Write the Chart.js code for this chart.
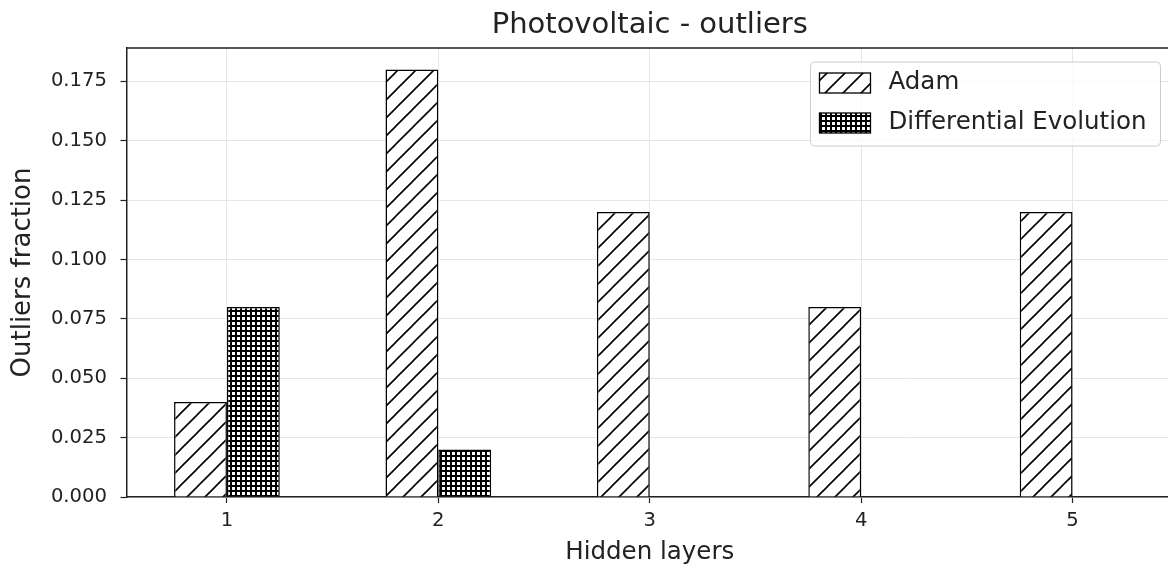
<!DOCTYPE html>
<html>
<head>
<meta charset="utf-8">
<title>Photovoltaic - outliers</title>
<script src="https://cdn.jsdelivr.net/npm/chart.js@4.4.1/dist/chart.umd.min.js"></script>
<style>
  html, body { margin: 0; padding: 0; background: #fff; overflow: hidden; }
  #wrap { width: 1180px; height: 572px; }
</style>
</head>
<body>
<div id="wrap"><canvas id="chart" width="1180" height="572"></canvas></div>
<script>
// ===== DATOS =====
const chartTitle = 'Photovoltaic - outliers';
const categories = [1, 2, 3, 4, 5];
const seriesLabels = ['Adam', 'Differential Evolution'];
const adamValues = [0.04, 0.18, 0.12, 0.08, 0.12];
const deValues = [0.08, 0.02, 0, 0, 0];
const yTicks = [0, 0.025, 0.05, 0.075, 0.1, 0.125, 0.15, 0.175];

const FONT = '"DejaVu Sans", sans-serif';
const INK = '#222';

const canvas = document.getElementById('chart');
const ctx = canvas.getContext('2d');

// ===== TRAMAS (hatch) =====
function diagonalHatch() {
  const c = document.createElement('canvas');
  c.width = 18; c.height = 18;
  const g = c.getContext('2d');
  g.fillStyle = '#fff';
  g.fillRect(0, 0, 18, 18);
  g.strokeStyle = '#000';
  g.lineWidth = 1.6;
  g.beginPath();
  g.moveTo(-2, 20); g.lineTo(20, -2);
  g.moveTo(-2, 2); g.lineTo(2, -2);
  g.moveTo(16, 20); g.lineTo(20, 16);
  g.stroke();
  return ctx.createPattern(c, 'repeat');
}

function gridHatch() {
  const c = document.createElement('canvas');
  c.width = 5; c.height = 5;
  const g = c.getContext('2d');
  g.fillStyle = '#fff';
  g.fillRect(0, 0, 5, 5);
  g.fillStyle = '#000';
  g.fillRect(0, 0, 5, 2);
  g.fillRect(0, 0, 2, 5);
  return ctx.createPattern(c, 'repeat');
}

// ===== PLUGINS =====
const plotTitle = {
  id: 'plotTitle',
  afterDraw(chart) {
    const { ctx, chartArea: a } = chart;
    ctx.save();
    ctx.font = '29px ' + FONT;
    ctx.fillStyle = INK;
    ctx.textAlign = 'center';
    ctx.textBaseline = 'middle';
    ctx.fillText(chartTitle, (a.left + a.right) / 2, a.top - 23);
    ctx.restore();
  }
};

const frame = {
  id: 'frame',
  afterDatasetsDraw(chart) {
    const { ctx, chartArea: a } = chart;
    ctx.save();
    ctx.strokeStyle = INK;
    ctx.lineWidth = 1.5;
    ctx.beginPath();
    ctx.moveTo(a.left, a.top);
    ctx.lineTo(a.right, a.top);
    ctx.lineTo(a.right, a.bottom);
    ctx.stroke();
    ctx.restore();
  }
};

const hatchLegend = {
  id: 'hatchLegend',
  afterDraw(chart) {
    const { ctx, chartArea: a } = chart;
    const sets = chart.data.datasets;
    ctx.save();
    ctx.font = '24.5px ' + FONT;
    const textW = Math.max(...sets.map(d => ctx.measureText(d.label).width));
    const boxW = 9 + 51 + 18 + textW + 14;
    const boxH = 84;
    const right = a.right - 12.5;
    const left = right - boxW;
    const top = a.top + 14;

    ctx.beginPath();
    ctx.roundRect(left, top, boxW, boxH, 4);
    ctx.fillStyle = 'rgba(255,255,255,0.8)';
    ctx.fill();
    ctx.strokeStyle = '#cccccc';
    ctx.lineWidth = 1;
    ctx.stroke();

    sets.forEach((ds, i) => {
      const cy = top + 21 + i * 40;
      ctx.fillStyle = ds.backgroundColor;
      ctx.fillRect(left + 9, cy - 10, 51, 20);
      ctx.strokeStyle = '#000';
      ctx.lineWidth = 1.3;
      ctx.strokeRect(left + 9, cy - 10, 51, 20);
      ctx.fillStyle = INK;
      ctx.textAlign = 'left';
      ctx.textBaseline = 'middle';
      ctx.fillText(ds.label, left + 9 + 51 + 18, cy);
    });
    ctx.restore();
  }
};

// ===== GRÁFICO =====
const barStyle = {
  borderColor: '#000',
  borderWidth: 1.5,
  categoryPercentage: 0.5,
  barPercentage: 1.0
};

new Chart(ctx, {
  type: 'bar',
  data: {
    datasets: [
      {
        label: seriesLabels[0],
        data: categories.map((c, i) => ({ x: c, y: adamValues[i] })),
        backgroundColor: diagonalHatch(),
        ...barStyle
      },
      {
        label: seriesLabels[1],
        data: categories.map((c, i) => ({ x: c, y: deValues[i] })),
        backgroundColor: gridHatch(),
        ...barStyle
      }
    ]
  },
  options: {
    responsive: false,
    animation: false,
    events: [],
    layout: { padding: { top: 48, right: 7, left: 0, bottom: 0 } },
    plugins: {
      legend: { display: false },
      title: { display: false },
      tooltip: { enabled: false }
    },
    scales: {
      x: {
        type: 'linear',
        offset: false,
        min: 0.525,
        max: 5.475,
        afterBuildTicks: s => { s.ticks = categories.map(v => ({ value: v })); },
        afterFit: s => { s.height = 75; },
        ticks: {
          font: { family: FONT, size: 19.6 },
          color: INK,
          padding: 6,
          maxRotation: 0,
          autoSkip: false,
          callback: v => String(v)
        },
        grid: { offset: false, color: '#e6e6e6', lineWidth: 1, tickColor: INK, tickLength: 6, tickWidth: 1.2 },
        border: { color: INK, width: 1.5 },
        title: {
          display: true,
          text: 'Hidden layers',
          font: { family: FONT, size: 24.5 },
          color: INK,
          padding: { top: 0, bottom: 5 }
        }
      },
      y: {
        min: 0,
        max: 0.189,
        afterBuildTicks: s => { s.ticks = yTicks.map(v => ({ value: v })); },
        afterFit: s => { s.width = 126.5; },
        ticks: {
          font: { family: FONT, size: 19.6 },
          color: INK,
          padding: 13.5,
          callback: v => Number(v).toFixed(3)
        },
        grid: { color: '#e6e6e6', lineWidth: 1, tickColor: INK, tickLength: 6, tickWidth: 1.2 },
        border: { color: INK, width: 1.5 },
        title: {
          display: true,
          text: 'Outliers fraction',
          font: { family: FONT, size: 26 },
          color: INK,
          padding: { top: 8, bottom: 0 }
        }
      }
    }
  },
  plugins: [frame, plotTitle, hatchLegend]
});
</script>
</body>
</html>
